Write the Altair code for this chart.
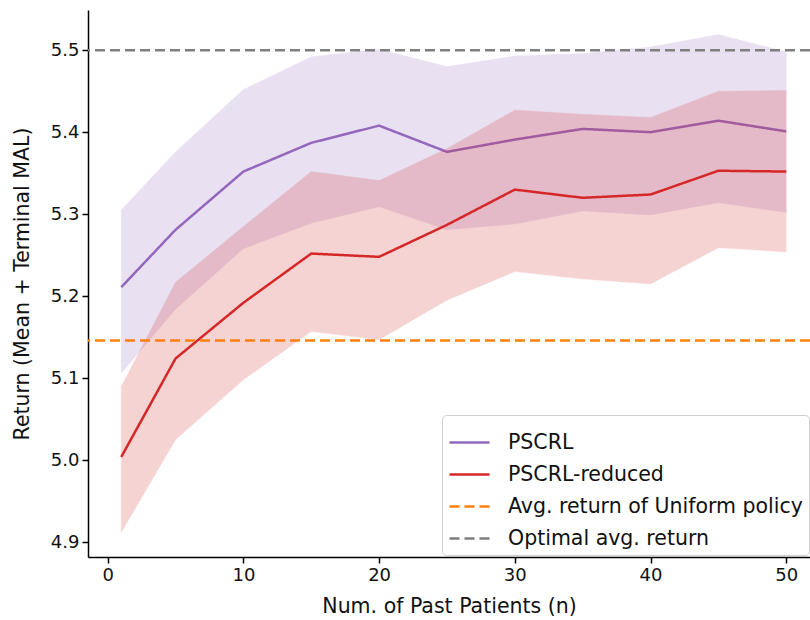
import altair as alt
import pandas as pd

# ---- data ----
n_patients = [1, 5, 10, 15, 20, 25, 30, 35, 40, 45, 50]

pscrl_mean = [5.211, 5.281, 5.352, 5.387, 5.408, 5.376, 5.391, 5.404, 5.400, 5.414, 5.401]
pscrl_upper = [5.305, 5.376, 5.452, 5.492, 5.501, 5.480, 5.493, 5.496, 5.504, 5.519, 5.498]
pscrl_lower = [5.106, 5.184, 5.258, 5.289, 5.309, 5.281, 5.288, 5.304, 5.299, 5.314, 5.302]

reduced_mean = [5.004, 5.124, 5.192, 5.252, 5.248, 5.287, 5.330, 5.320, 5.324, 5.353, 5.352]
reduced_upper = [5.090, 5.217, 5.285, 5.352, 5.341, 5.380, 5.427, 5.422, 5.418, 5.450, 5.451]
reduced_lower = [4.912, 5.025, 5.098, 5.157, 5.147, 5.195, 5.230, 5.221, 5.215, 5.259, 5.254]

uniform_return = 5.146
optimal_return = 5.5

series_names = ["PSCRL", "PSCRL-reduced", "Avg. return of Uniform policy", "Optimal avg. return"]
series_colors = ["#9467bd", "#d62728", "#ff7f0e", "#7f7f7f"]
series_dash = [[1, 0], [1, 0], [10, 5], [10, 5]]

x_ticks = [0, 10, 20, 30, 40, 50]
y_ticks = [4.9, 5.0, 5.1, 5.2, 5.3, 5.4, 5.5]

# ---- tables ----
band_p = pd.DataFrame({"n": n_patients, "lo": pscrl_lower, "hi": pscrl_upper})
band_r = pd.DataFrame({"n": n_patients, "lo": reduced_lower, "hi": reduced_upper})
lines = pd.concat([
    pd.DataFrame({"n": n_patients, "v": pscrl_mean, "series": series_names[0]}),
    pd.DataFrame({"n": n_patients, "v": reduced_mean, "series": series_names[1]}),
])
hlines = pd.DataFrame({"v": [uniform_return, optimal_return], "series": series_names[2:]})

FONT = "DejaVu Sans"
FS_TICK = 18
FS = 20.5

xscale = alt.Scale(domain=[-1.45, 51.75], nice=False, zero=False)
yscale = alt.Scale(domain=[4.882, 5.549], nice=False, zero=False)

x_enc = alt.X("n:Q", scale=xscale,
              axis=alt.Axis(values=x_ticks, title="Num. of Past Patients (n)", format="d"))
y_enc_axis = alt.Axis(values=y_ticks, format=".1f", title="Return (Mean + Terminal MAL)")

color_enc = alt.Color("series:N",
                      scale=alt.Scale(domain=series_names, range=series_colors),
                      legend=alt.Legend(title=None, orient="none", legendX=354, legendY=405,
                                        symbolType="stroke", symbolSize=1600,
                                        symbolStrokeWidth=2.5, labelFontSize=FS, labelFont=FONT,
                                        labelColor="#111111", rowPadding=-21, labelOffset=17,
                                        fillColor="white", strokeColor="#d0d0d0",
                                        cornerRadius=4, padding=6, labelLimit=400))
dash_enc = alt.StrokeDash("series:N",
                          scale=alt.Scale(domain=series_names, range=series_dash),
                          legend=None)

area_p = alt.Chart(band_p).mark_area(color="#9467bd", opacity=0.2, stroke="#9467bd",
                                     strokeOpacity=0.3, strokeWidth=1).encode(
    x=x_enc, y=alt.Y("lo:Q", scale=yscale, axis=y_enc_axis), y2="hi:Q")
area_r = alt.Chart(band_r).mark_area(color="#d62728", opacity=0.2, stroke="#d62728",
                                     strokeOpacity=0.3, strokeWidth=1).encode(
    x=alt.X("n:Q", scale=xscale), y=alt.Y("lo:Q", scale=yscale), y2="hi:Q")

line_layer = alt.Chart(lines).mark_line(strokeWidth=2.5).encode(
    x=alt.X("n:Q", scale=xscale), y=alt.Y("v:Q", scale=yscale),
    color=color_enc, strokeDash=dash_enc)

rule_layer = alt.Chart(hlines).mark_rule(strokeWidth=2.5).encode(
    y=alt.Y("v:Q", scale=yscale), color=color_enc, strokeDash=dash_enc)

chart = alt.layer(area_p, line_layer.transform_filter(alt.datum.series == "PSCRL"),
                  area_r, line_layer.transform_filter(alt.datum.series == "PSCRL-reduced"),
                  rule_layer).properties(
    width=722, height=547,
    autosize=alt.AutoSizeParams(type="none"),
    padding={"left": 88, "top": 10, "right": 0, "bottom": 63},
).configure_view(stroke=None).configure_axis(
    grid=False, domainColor="black", domainWidth=1.5, tickColor="black", tickWidth=1.5,
    tickSize=6, labelFont=FONT, labelFontSize=FS_TICK, labelColor="#111111",
    titleFont=FONT, titleFontSize=FS, titleColor="#111111", titleFontWeight="normal",
    labelPadding=3,
).configure_axisY(titlePadding=18).configure_axisX(titlePadding=12)

chart.save("out.html", embed_options={"renderer": "svg", "actions": False})
